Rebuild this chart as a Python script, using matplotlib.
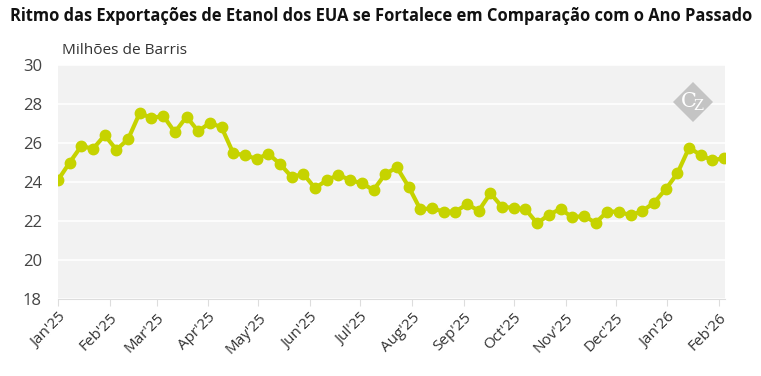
import matplotlib
matplotlib.use("Agg")
import matplotlib.pyplot as plt
import numpy as np
import pandas as pd
from matplotlib.patches import Polygon

title = "Ritmo das Exportações de Etanol dos EUA se Fortalece em Comparação com o Ano Passado"
ylabel = "Milhões de Barris"
start_date = "2025-01-01"
values = [24.1, 25.0, 25.85, 25.7, 26.4, 25.65, 26.2, 27.55, 27.27, 27.4,
          26.55, 27.35, 26.6, 27.04, 26.8, 25.47, 25.38, 25.18, 25.45, 24.92,
          24.26, 24.41, 23.68, 24.1, 24.36, 24.1, 23.93, 23.59, 24.41, 24.75,
          23.76, 22.6, 22.65, 22.48, 22.48, 22.86, 22.53, 23.42, 22.72, 22.68,
          22.6, 21.88, 22.32, 22.62, 22.19, 22.26, 21.91, 22.48, 22.48, 22.29,
          22.51, 22.94, 23.63, 24.45, 25.76, 25.38, 25.11, 25.23]
tick_dates = ["2025-01-01", "2025-02-01", "2025-03-01", "2025-04-01", "2025-05-01",
              "2025-06-01", "2025-07-01", "2025-08-01", "2025-09-01", "2025-10-01",
              "2025-11-01", "2025-12-01", "2026-01-01", "2026-02-01"]
tick_labels = ["Jan'25", "Feb'25", "Mar'25", "Apr'25", "May'25", "Jun'25", "Jul'25",
               "Aug'25", "Sep'25", "Oct'25", "Nov'25", "Dec'25", "Jan'26", "Feb'26"]
y_ticks = [18, 20, 22, 24, 26, 28, 30]

dates = pd.date_range(start_date, periods=len(values), freq="7D")

plt.rcParams['font.family'] = ['Open Sans', 'DejaVu Sans']
plt.rcParams['mathtext.fontset'] = 'dejavuserif'

W, H = 761, 376
fig = plt.figure(figsize=(W / 100, H / 100), dpi=100)
ax = fig.add_axes([58 / W, 1 - 299 / H, (725 - 58) / W, (299 - 65) / H])
ax.set_facecolor('#f2f2f2')

color = '#c6d300'
ax.plot(dates, values, color=color, lw=3, marker='o', ms=7.5, zorder=3)

ax.set_ylim(18, 30)
ax.set_yticks(y_ticks)
ax.yaxis.grid(True, color='white', lw=1.2)
ax.set_axisbelow(True)
ax.set_xlim(pd.Timestamp(start_date), dates[-1] + pd.Timedelta(days=0.5))
ax.set_xticks(pd.to_datetime(tick_dates))
ax.set_xticklabels(tick_labels, rotation=45, ha='right', va='top',
                   rotation_mode='anchor')

for s in ['top', 'right', 'left']:
    ax.spines[s].set_visible(False)
ax.spines['bottom'].set_color('#dddddd')
ax.tick_params(axis='x', colors='#dddddd', length=5, labelcolor='#333333',
               labelsize=11, pad=3)
ax.tick_params(axis='y', length=0, labelcolor='#444444', labelsize=12, pad=11.5)

fig.text(381 / W, 1 - 16 / H, title, ha='center', va='center',
         fontsize=11.9, fontweight='bold', color='#111111')
fig.text(62 / W, 1 - 50 / H, ylabel, ha='left', va='center',
         fontsize=11.1, color='#333333')

# logo
cx, cy, r = 693, 102, 20
pts = [((cx) / W, 1 - (cy - r) / H), ((cx + r) / W, 1 - cy / H),
       (cx / W, 1 - (cy + r) / H), ((cx - r) / W, 1 - cy / H)]
fig.patches.append(Polygon(pts, closed=True, transform=fig.transFigure,
                           facecolor='#c4c4c4', edgecolor='none', zorder=5))
fig.text(cx / W, 1 - cy / H, r"$\mathrm{C}_{\!\mathrm{Z}}$", ha='center',
         va='center', color='white', fontsize=15, zorder=6)

fig.savefig("out.png", dpi=100)
